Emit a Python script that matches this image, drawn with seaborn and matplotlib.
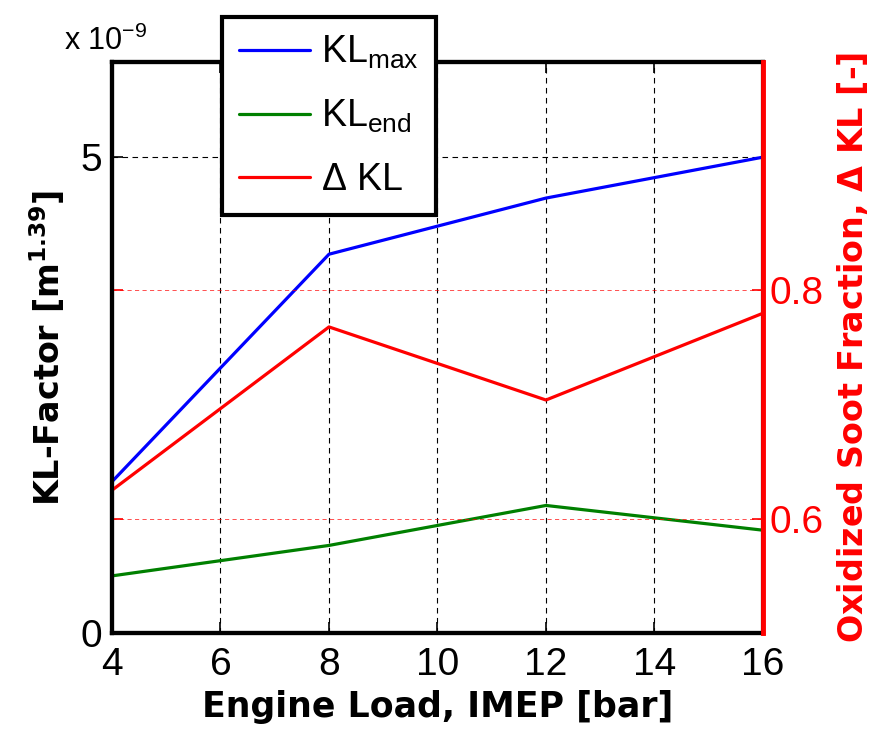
import matplotlib
matplotlib.use("Agg")
import pandas as pd
import matplotlib.pyplot as plt
import seaborn as sns

# data
load = [4, 8, 12, 16]                      # IMEP [bar]
kl_max = [1.59, 3.98, 4.57, 5.00]          # x 1e-9
kl_end = [0.60, 0.92, 1.34, 1.08]          # x 1e-9
delta_kl = [0.625, 0.768, 0.704, 0.780]    # oxidized fraction [-]

x_ticks = [4, 6, 8, 10, 12, 14, 16]
left_ticks = [0, 5]
right_ticks = [0.6, 0.8]

sns.set_style("white")
plt.rcParams["font.family"] = ["Liberation Sans", "DejaVu Sans"]
plt.rcParams["mathtext.fontset"] = "custom"
plt.rcParams["mathtext.rm"] = "Liberation Sans"
plt.rcParams["mathtext.it"] = "Liberation Sans"
plt.rcParams["mathtext.bf"] = "DejaVu Sans:bold"
for k in ["text.color", "axes.labelcolor", "xtick.color", "ytick.color", "axes.edgecolor"]:
    plt.rcParams[k] = "black"

df = pd.DataFrame({"load": load, "kl_max": kl_max, "kl_end": kl_end, "delta": delta_kl})

fig = plt.figure(figsize=(8.77, 7.30), dpi=100)
ax = fig.add_axes([0.1277, 0.1329, 0.7423, 0.7822])
ax2 = ax.twinx()

lw = 2.3
sns.lineplot(data=df, x="load", y="kl_max", color="#0000ff", lw=lw, ax=ax, label=r"KL$_{\rm max}$", legend=False)
sns.lineplot(data=df, x="load", y="kl_end", color="#008000", lw=lw, ax=ax, label=r"KL$_{\rm end}$", legend=False)
sns.lineplot(data=df, x="load", y="delta", color="#ff0000", lw=lw, ax=ax2, label=r"$\Delta$ KL", legend=False)

ax.set_xlim(4, 16)
ax.set_ylim(0, 6)
ax2.set_ylim(0.5, 1.0)
ax.set_xticks(x_ticks)
ax.set_yticks(left_ticks)
ax2.set_yticks(right_ticks)
ax2.set_yticklabels([str(v) for v in right_ticks])

# grids
for xv in x_ticks[1:-1]:
    ax.axvline(xv, color="black", ls=(0, (5, 4)), lw=0.8, zorder=0)
for yv in left_ticks[1:]:
    ax.axhline(yv, color="black", ls=(0, (5, 4)), lw=0.8, zorder=0)
for yv in right_ticks:
    ax2.axhline(yv, color="#ff0000", ls=(0, (5, 4)), lw=0.6, zorder=0, alpha=0.8)

# spines / ticks
for s in list(ax.spines.values()) + list(ax2.spines.values()):
    s.set_linewidth(3)
    s.set_color("black")
ax2.spines["right"].set_color("#ff0000")
ax2.spines["right"].set_linewidth(3.5)
ax2.spines["right"].set_zorder(5)

ax.tick_params(axis="both", direction="in", length=8, width=1.2, labelsize=28, colors="black",
               top=True, bottom=True, left=True, right=False)
ax.tick_params(axis="x", pad=10)
ax.tick_params(axis="y", pad=7)
ax2.tick_params(axis="y", direction="in", length=8, width=1.2, labelsize=28, colors="#ff0000",
                left=True, right=True, pad=5)

ax.set_xlabel("Engine Load, IMEP [bar]", fontsize=25, fontweight="bold", family="DejaVu Sans", labelpad=5)
ax.set_ylabel(r"KL-Factor [m$^{\mathbf{1.39}}$]", fontsize=24, fontweight="bold", family="DejaVu Sans", labelpad=10)
ax2.set_ylabel(r"Oxidized Soot Fraction, $\mathbf{\Delta}$ KL [-]", fontsize=24, fontweight="bold",
               family="DejaVu Sans", color="#ff0000", labelpad=8)

ax.text(-0.074, 1.008, r"x 10$^{-9}$", transform=ax.transAxes, fontsize=22, ha="left", va="bottom")

h1, l1 = ax.get_legend_handles_labels()
h2, l2 = ax2.get_legend_handles_labels()
leg = ax2.legend(h1 + h2, l1 + l2, loc="upper left", bbox_to_anchor=(0.169, 1.079), fontsize=27,
                 frameon=True, fancybox=False, edgecolor="black", framealpha=1, borderaxespad=0,
                 handlelength=1.9, handletextpad=0.3, labelspacing=0.72, borderpad=0.45)
leg.get_frame().set_linewidth(3)
leg.set_zorder(10)

fig.savefig("out.png", dpi=100)
